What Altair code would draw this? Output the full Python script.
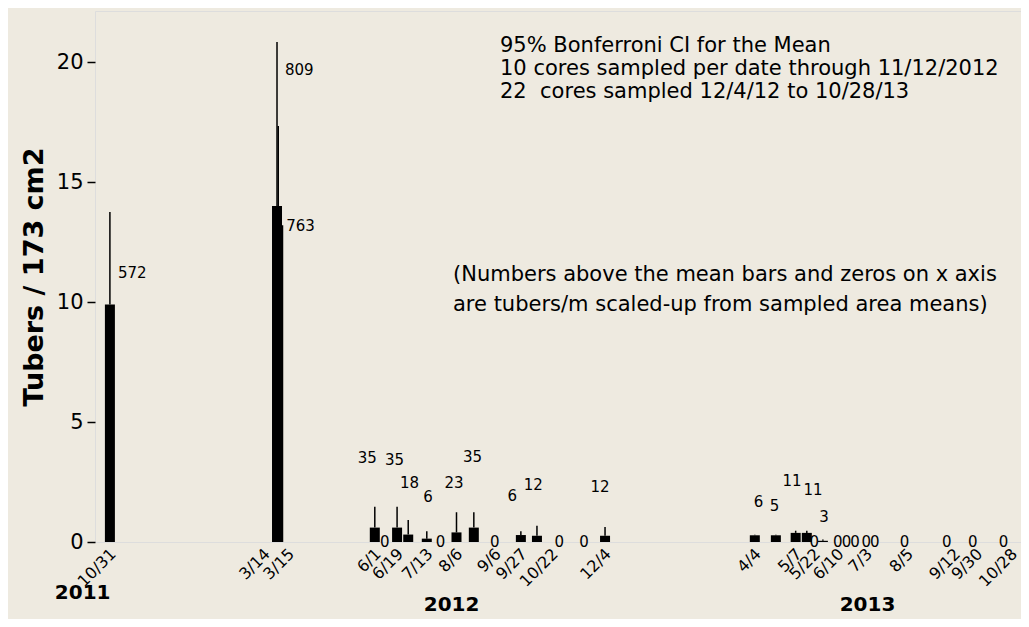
import altair as alt
import pandas as pd

# ---- data ----
bar_dates = ["2011-10-31", "2012-03-14", "2012-03-15", "2012-06-01", "2012-06-19",
             "2012-06-28", "2012-07-13", "2012-08-06", "2012-08-20", "2012-09-27",
             "2012-10-10", "2012-12-04", "2013-04-04", "2013-04-21", "2013-05-07",
             "2013-05-16", "2013-05-29"]
bar_means = [9.9, 14.0, 13.2, 0.6, 0.6, 0.31, 0.14, 0.4, 0.6, 0.29, 0.26, 0.26,
             0.28, 0.28, 0.38, 0.38, 0.05]
bar_upper = [13.75, 20.83, 17.33, 1.47, 1.47, 0.92, 0.45, 1.24, 1.24, 0.45, 0.68, 0.62,
             0.3, 0.3, 0.47, 0.47, 0.1]
bar_labels = ["572", "809", "763", "35", "35", "18", "6", "23", "35", "6", "12", "12",
              "6", "5", "11", "11", "3"]
# where each number label sits (date, value) in the reference
label_dates = ["2011-10-31", "2012-03-14", "2012-03-15", "2012-05-26", "2012-06-17",
               "2012-06-29", "2012-07-14", "2012-08-04", "2012-08-19", "2012-09-20",
               "2012-10-07", "2012-11-30", "2013-04-07", "2013-04-20", "2013-05-04",
               "2013-05-21", "2013-05-30"]
label_heights = [11.2, 19.67, 13.17, 3.5, 3.42, 2.47, 1.87, 2.47, 3.56, 1.93, 2.37, 2.3,
                 1.68, 1.5, 2.55, 2.15, 1.05]

zero_dates = ["2012-06-09", "2012-07-24", "2012-09-06", "2012-10-28", "2012-11-17",
              "2013-05-22", "2013-06-10", "2013-06-17", "2013-06-24", "2013-07-03",
              "2013-07-10", "2013-08-03", "2013-09-06", "2013-09-27", "2013-10-22"]

tick_dates = ["2011-10-31", "2012-03-14", "2012-03-15", "2012-06-01", "2012-06-19",
              "2012-07-13", "2012-08-06", "2012-09-06", "2012-09-27", "2012-10-22",
              "2012-12-04", "2013-04-04", "2013-05-07", "2013-05-22", "2013-06-10",
              "2013-07-03", "2013-08-05", "2013-09-12", "2013-09-30", "2013-10-28"]

year_names = ["2011", "2012", "2013"]
year_anchor = ["2011-10-09", "2012-08-02", "2013-07-04"]

x_domain = ["2011-10-23", "2013-11-01"]
y_ticks = [0, 5, 10, 15, 20]
y_max = 22.125

note_top = ["95% Bonferroni CI for the Mean",
            "10 cores sampled per date through 11/12/2012",
            "22\u00a0 cores sampled 12/4/12 to 10/28/13"]
note_mid = ["(Numbers above the mean bars and zeros on x axis",
            "are tubers/m scaled-up from sampled area means)"]


def ms(d):
    return int(pd.Timestamp(d, tz="UTC").value // 10**6)


tick_ms = [ms(d) for d in tick_dates]

bars = pd.DataFrame({"date": bar_dates, "mean": bar_means, "upper": bar_upper})
labels = pd.DataFrame({"date": label_dates, "label": bar_labels,
                       "label_y": label_heights, "mean": bar_means})
zeros = pd.DataFrame({"date": zero_dates, "zero": [0] * len(zero_dates),
                      "label": ["0"] * len(zero_dates)})
years = pd.DataFrame({"date": year_anchor, "year": year_names})

FONT = "DejaVu Sans"
W, H = 926, 531

x_scale = alt.Scale(type="utc", domain=[ms(d) for d in x_domain], nice=False)
x_axis = alt.Axis(values=tick_ms,
                  labelExpr="utcFormat(datum.value, '%-m/%-d')",
                  labelAngle=-45, labelAlign="right", labelBaseline="middle",
                  labelFontSize=16, labelColor="black", labelPadding=9,
                  labelOverlap=False, labelFlush=False, labelBound=False,
                  labelOffset={"condition": [
                      {"test": f"time(datum.value) == {ms('2012-03-14')}", "value": -10},
                      {"test": f"time(datum.value) == {ms('2012-03-15')}", "value": 13}],
                      "value": 3},
                  ticks=False, domain=False, grid=False, title=None)
y_scale = alt.Scale(domain=[0, y_max], nice=False, zero=True)
y_axis = alt.Axis(values=y_ticks, labelFontSize=21, labelColor="black", tickSize=8,
                  tickWidth=1.5, tickColor="black", labelPadding=4, domain=False,
                  grid=False, titleFontSize=27, titleFontWeight="bold",
                  titleColor="black", titlePadding=8)
Y_TITLE = "Tubers / 173 cm2"


def X():
    return alt.X("date:T", scale=x_scale, axis=x_axis)


def Y(field):
    return alt.Y(f"{field}:Q", scale=y_scale, axis=y_axis, title=Y_TITLE)


bar_layer = alt.Chart(bars).mark_bar(color="black", size=10).encode(
    x=X(), y=Y("mean"))

err_layer = alt.Chart(bars).mark_rule(color="black", strokeWidth=1.5).encode(
    x=X(), y=Y("mean"), y2="upper:Q")

big_labels = alt.Chart(labels).transform_filter("datum.mean > 5").mark_text(
    align="left", baseline="middle", dx=8, fontSize=15, font=FONT, color="black"
).encode(x=X(), y=Y("label_y"), text="label:N")

small_labels = alt.Chart(labels).transform_filter("datum.mean <= 5").mark_text(
    align="center", baseline="middle", fontSize=15, font=FONT, color="black"
).encode(x=X(), y=Y("label_y"), text="label:N")

zero_labels = alt.Chart(zeros).mark_text(
    align="center", baseline="middle", fontSize=15, font=FONT, color="black"
).encode(x=X(), y=Y("zero"), text="label:N")

year_first = alt.Chart(years).transform_filter("datum.year == '2011'").mark_text(
    align="center", baseline="middle", fontSize=20, fontWeight="bold", font=FONT,
    color="black"
).encode(x=X(), y=alt.value(H + 51), text="year:N")

year_rest = alt.Chart(years).transform_filter("datum.year != '2011'").mark_text(
    align="center", baseline="middle", fontSize=20, fontWeight="bold", font=FONT,
    color="black"
).encode(x=X(), y=alt.value(H + 63), text="year:N")

note1 = alt.Chart(pd.DataFrame({"t": [note_top]})).mark_text(
    align="left", baseline="alphabetic", fontSize=21, font=FONT, color="black",
    lineHeight=23
).encode(text="t", x=alt.value(405), y=alt.value(41))

note2 = alt.Chart(pd.DataFrame({"t": [note_mid]})).mark_text(
    align="left", baseline="alphabetic", fontSize=21, font=FONT, color="black",
    lineHeight=30
).encode(text="t", x=alt.value(358), y=alt.value(270))

chart = alt.layer(bar_layer, err_layer, big_labels, small_labels, zero_labels,
                  year_first, year_rest, note1, note2).properties(
    width=W, height=H,
    autosize=alt.AutoSizeParams(type="none"),
    padding={"left": 87, "top": 3, "right": 0, "bottom": 77},
    background="#EEEAE0",
).configure_view(
    fill="white", stroke="black", strokeWidth=1.5
).configure(font=FONT)

chart.save("out.html", embed_options={"renderer": "svg", "actions": False})
